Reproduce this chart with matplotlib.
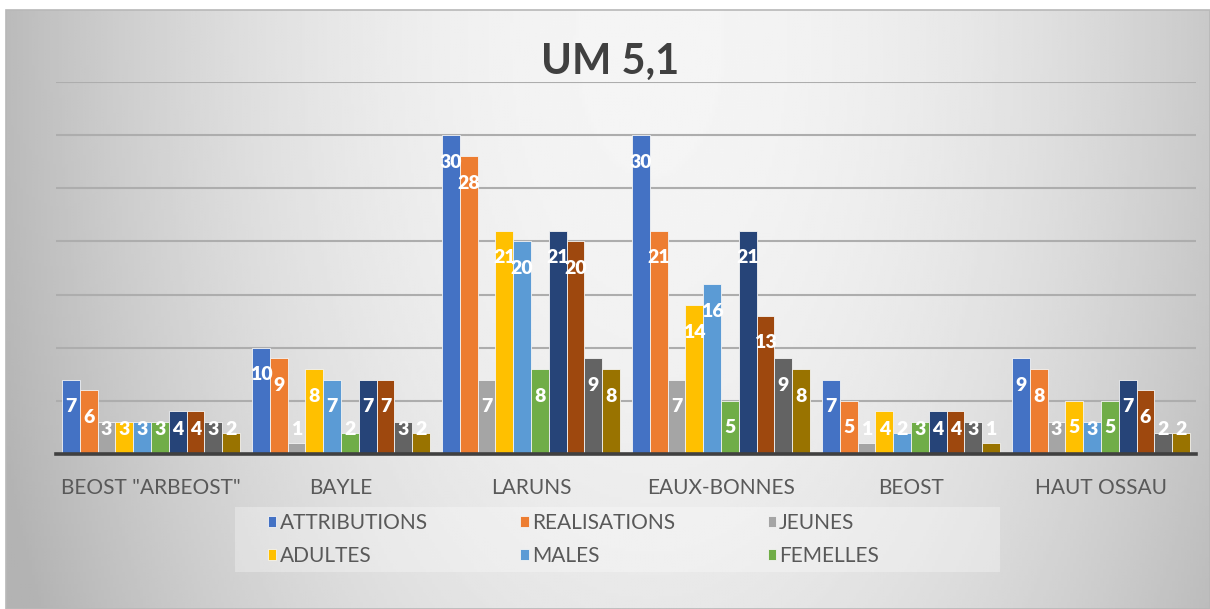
import numpy as np
import matplotlib
matplotlib.use("Agg")
import matplotlib.pyplot as plt
from matplotlib.patches import Rectangle

plt.rcParams["font.family"] = ["Lato", "DejaVu Sans"]

# Data
categories = ['BEOST "ARBEOST"', "BAYLE", "LARUNS", "EAUX-BONNES", "BEOST", "HAUT OSSAU"]
attributions = [7, 10, 30, 30, 7, 9]
realisations = [6, 9, 28, 21, 5, 8]
jeunes = [3, 1, 7, 7, 1, 3]
adultes = [3, 8, 21, 14, 4, 5]
males = [3, 7, 20, 16, 2, 3]
femelles = [3, 2, 8, 5, 3, 5]
# four more series are drawn but not named in the visible legend
serie7 = [4, 7, 21, 21, 4, 7]
serie8 = [4, 7, 20, 13, 4, 6]
serie9 = [3, 3, 9, 9, 3, 2]
serie10 = [2, 2, 8, 8, 1, 2]

series_names = ["ATTRIBUTIONS", "REALISATIONS", "JEUNES", "ADULTES", "MALES", "FEMELLES",
                "série 7", "série 8", "série 9", "série 10"]
series_values = [attributions, realisations, jeunes, adultes, males, femelles,
                 serie7, serie8, serie9, serie10]
colors = ["#4472C4", "#ED7D31", "#A5A5A5", "#FFC000", "#5B9BD5", "#70AD47",
          "#264478", "#9E480E", "#636363", "#997300"]

W, H = 1210, 609
fig = plt.figure(figsize=(W / 100, H / 100), dpi=100)
fig.patch.set_facecolor("white")

# background gradient of the chart area
bg = fig.add_axes([6 / W, 0, 1 - 6 / W, 1 - 10 / H], zorder=-2)
xx, yy = np.meshgrid(np.linspace(6, W, 400), np.linspace(10, H, 200))
r2 = ((xx - 650) / 620) ** 2 + ((yy - 40) / 1150) ** 2
shade = np.clip(0.96 - 0.21 * r2, 0.7, 1.0)
bg.imshow(shade, cmap="gray", vmin=0, vmax=1, aspect="auto", extent=(0, 1, 0, 1))
bg.set_axis_off()
fig.add_artist(Rectangle((6 / W, 0), 1 - 6 / W, 1 - 10 / H, transform=fig.transFigure,
                         fill=False, edgecolor="#b8b8b8", linewidth=1.2, zorder=-1))

ax = fig.add_axes([56 / W, (H - 454) / H, 1140 / W, 372 / H])
ax.set_facecolor("none")

x = np.arange(len(categories))
n = len(series_values)
w = 0.937 / n
bars = []
for j, (name, vals, c) in enumerate(zip(series_names, series_values, colors)):
    pos = x + (j - (n - 1) / 2) * w
    b = ax.bar(pos, vals, w, color=c, edgecolor="#f4f4f4", linewidth=0.6, label=name, zorder=3)
    bars.append(b)
    for xp, v in zip(pos, vals):
        ax.text(xp, max(v - 2.55, 2.26), str(v), ha="center", va="center",
                color="white", fontsize=14, fontweight="heavy", zorder=4)

ax.set_xlim(-0.5, len(categories) - 0.5)
ax.set_ylim(0, 35)
ax.set_yticks(np.arange(0, 36, 5))
ax.tick_params(axis="y", left=False, labelleft=False)
ax.yaxis.grid(True, color="#adadad", linewidth=1.5, zorder=0)
ax.set_axisbelow(True)
for s in ["top", "right", "left"]:
    ax.spines[s].set_visible(False)
ax.spines["bottom"].set_color("#404040")
ax.spines["bottom"].set_linewidth(2.6)
ax.spines["bottom"].set_zorder(5)
ax.set_xticks(x)
ax.set_xticklabels(categories, fontsize=15, color="#595959")
ax.tick_params(axis="x", length=0, pad=17)

fig.text(610 / W, 1 - 62 / H, "UM 5,1", ha="center", va="center",
         fontsize=30, fontweight="bold", color="#404040")

# legend: only the six named series are shown
fig.add_artist(Rectangle((235 / W, (H - 572) / H), 765 / W, 65 / H, transform=fig.transFigure,
                         facecolor="white", alpha=0.3, edgecolor="none", zorder=0))
order = [0, 3, 1, 4, 2, 5]
fig.legend([bars[i] for i in order], [series_names[i] for i in order],
           ncol=3, loc="upper left", bbox_to_anchor=(268 / W, 1 - 513 / H),
           frameon=False, fontsize=15, labelcolor="#595959",
           handlelength=0.4, handleheight=0.4, handletextpad=0.15,
           columnspacing=4.45, labelspacing=0.62, borderpad=0, borderaxespad=0)

fig.savefig("out.png", dpi=100)
